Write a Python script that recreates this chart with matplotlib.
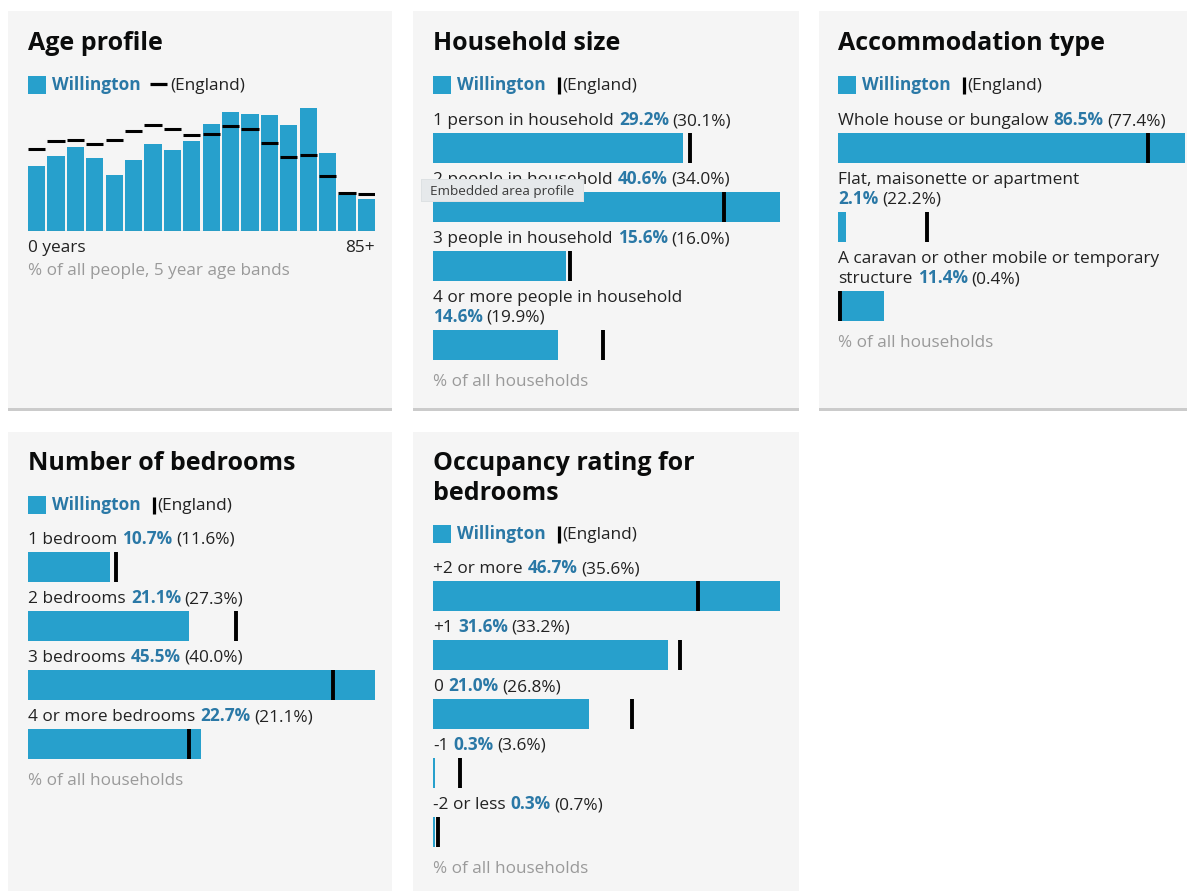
import matplotlib
matplotlib.use("Agg")
import matplotlib.pyplot as plt
from matplotlib.patches import Rectangle
from matplotlib.transforms import Affine2D
from matplotlib.lines import Line2D

# ---------------- data ----------------
age_bands = ["0-4", "5-9", "10-14", "15-19", "20-24", "25-29", "30-34", "35-39", "40-44",
             "45-49", "50-54", "55-59", "60-64", "65-69", "70-74", "75-79", "80-84", "85+"]
age_willington = [4.3, 4.95, 5.5, 4.8, 3.7, 4.7, 5.7, 5.35, 5.9, 7.05, 7.8, 7.7, 7.6, 7.0, 8.1, 5.1, 2.4, 2.1]
age_england = [5.4, 5.9, 6.0, 5.7, 6.0, 6.6, 7.0, 6.7, 6.3, 6.4, 6.9, 6.7, 5.8, 4.9, 5.0, 3.6, 2.5, 2.45]

hh_categories = ["1 person in household", "2 people in household", "3 people in household",
                 "4 or more people in household"]
hh_willington = [29.2, 40.6, 15.6, 14.6]
hh_england = [30.1, 34.0, 16.0, 19.9]

acc_categories = ["Whole house or bungalow", "Flat, maisonette or apartment",
                  "A caravan or other mobile or temporary structure"]
acc_willington = [86.5, 2.1, 11.4]
acc_england = [77.4, 22.2, 0.4]

bed_categories = ["1 bedroom", "2 bedrooms", "3 bedrooms", "4 or more bedrooms"]
bed_willington = [10.7, 21.1, 45.5, 22.7]
bed_england = [11.6, 27.3, 40.0, 21.1]

occ_categories = ["+2 or more", "+1", "0", "-1", "-2 or less"]
occ_willington = [46.7, 31.6, 21.0, 0.3, 0.3]
occ_england = [35.6, 33.2, 26.8, 3.6, 0.7]

area_name = "Willington"
compare_name = "(England)"

# ---------------- style ----------------
W_PX, H_PX = 1187, 891
DPI = 100
BLUE = "#27a0cc"
TXT_BLUE = "#2a78a6"
DARK = "#222222"
GREY = "#9a9a9a"
PANEL_BG = "#f5f5f5"
BORDER = "#cbcbcb"
FONT = "Open Sans"
TITLE_FS = 18.0
LABEL_FS = 12.4
FOOT_FS = 12.3
BAR_W = 347
BAR_H = 30
GAP_WORD = 5.2   # gap before the bold value
GAP_VAL = 3.6    # gap between value and comparison

plt.rcParams["font.family"] = [FONT, "DejaVu Sans"]

fig = plt.figure(figsize=(W_PX / DPI, H_PX / DPI), dpi=DPI)
fig.patch.set_facecolor("white")
renderer = fig.canvas.get_renderer()
pxT = Affine2D().scale(1, -1).translate(0, H_PX)


def txt(x, y, s, **kw):
    kw.setdefault("va", "baseline")
    kw.setdefault("ha", "left")
    kw.setdefault("fontsize", LABEL_FS)
    kw.setdefault("color", DARK)
    return fig.text(x, y, s, transform=pxT, **kw)


def width_of(t):
    return t.get_window_extent(renderer).width


def rect(x0, y0, x1, y1, color, z=-5):
    fig.add_artist(Rectangle((x0, y1), x1 - x0, y0 - y1, transform=pxT,
                             facecolor=color, edgecolor="none", zorder=z))


def panel(x0, y0, x1, y1, border=True):
    rect(x0, y0, x1, y1, PANEL_BG)
    if border:
        rect(x0, y1, x1, y1 + 3, BORDER)


def title(x, y, lines):
    for i, ln in enumerate(lines):
        txt(x, y + i * 30, ln, fontsize=TITLE_FS, fontweight="bold", color="#0b0c0c")
    return y + (len(lines) - 1) * 30


def legend(x, yc, kind):
    rect(x, yc - 9, x + 18, yc + 9, BLUE, z=2)
    t = txt(x + 24, yc + 5, area_name, fontweight="bold", color=TXT_BLUE)
    xe = x + 24 + width_of(t)
    if kind == "dash":
        fig.add_artist(Line2D([xe + 9, xe + 26], [yc - 1, yc - 1], transform=pxT,
                              color="black", lw=2.3, solid_capstyle="butt"))
        txt(xe + 30, yc + 5, compare_name)
    else:
        fig.add_artist(Line2D([xe + 13, xe + 13], [yc - 8, yc + 9], transform=pxT,
                              color="black", lw=2.3, solid_capstyle="butt"))
        txt(xe + 17, yc + 5, compare_name)


BOLD = {"fontweight": "bold", "color": TXT_BLUE}
REG = {}


def draw_line(x0, y, units, draw=True):
    """units: list of word units; each unit is a list of (text, style) segments."""
    segs = []
    for unit in units:
        for s, st in unit:
            if segs and segs[-1][1] is st and len(unit) == 1:
                segs[-1][0] += " " + s
            else:
                segs.append([s, st])
    x = x0
    arts = []
    for i, (s, st) in enumerate(segs):
        if i > 0:
            x += GAP_VAL if segs[i - 1][1] is BOLD else GAP_WORD
        t = txt(x, y, s, **st)
        arts.append(t)
        x += width_of(t)
    width = x - x0
    if not draw:
        for a in arts:
            a.remove()
    return width


def wrapped_label(x0, y, name, val, eng, maxw=340, line_h=20):
    units = [[(w, REG)] for w in name.split(" ")]
    # value and comparison stay together on one line
    units.append([(f"{val:.1f}%", BOLD), (f"({eng:.1f}%)", REG)])
    lines, cur = [], []
    for u in units:
        cand = cur + [u]
        if cur and draw_line(x0, -200, cand, draw=False) > maxw:
            lines.append(cur)
            cur = [u]
        else:
            cur = cand
    lines.append(cur)
    for i, ln in enumerate(lines):
        draw_line(x0, y + i * line_h, ln)
    return y + (len(lines) - 1) * line_h


def bar_panel(x0, y_first, cats, will, eng):
    y = y_first
    centers = []
    for c, w, e in zip(cats, will, eng):
        ylast = wrapped_label(x0, y, c, w, e)
        top = ylast + 8
        centers.append(top + BAR_H / 2)
        y = top + BAR_H + 21
    ytop = centers[0] - BAR_H / 2
    ybot = centers[-1] + BAR_H / 2
    ax = fig.add_axes([x0 / W_PX, 1 - ybot / H_PX, BAR_W / W_PX, (ybot - ytop) / H_PX])
    ax.barh(centers, will, height=BAR_H, color=BLUE, edgecolor="none")
    ax.vlines(eng, [c - BAR_H / 2 for c in centers], [c + BAR_H / 2 for c in centers],
              color="black", lw=2.8, clip_on=False, zorder=3)
    ax.set_xlim(0, max(max(will), max(eng)))
    ax.set_ylim(ybot, ytop)
    ax.axis("off")
    ax.patch.set_visible(False)
    txt(x0, ybot + 26, "% of all households", fontsize=FOOT_FS, color=GREY)


# ---------------- panels ----------------
panel(8, 11, 392, 408)
panel(413, 11, 799, 408)
panel(819, 11, 1187, 408)
panel(8, 432, 392, 891, border=False)
panel(413, 432, 799, 891, border=False)

# Age profile
title(28, 50, ["Age profile"])
legend(28, 85, "dash")
ax = fig.add_axes([28 / W_PX, 1 - 231 / H_PX, BAR_W / W_PX, 8.6 * 15.2 / H_PX])
xs = list(range(len(age_bands)))
ax.bar(xs, age_willington, width=0.89, color=BLUE, edgecolor="none")
ax.hlines(age_england, [x - 0.445 for x in xs], [x + 0.445 for x in xs],
          color="black", lw=2.2, zorder=3)
ax.axhline(0, color="#5a6a70", lw=0.8)
ax.set_xlim(-0.445, len(age_bands) - 1 + 0.445)
ax.set_ylim(0, 8.6)
ax.axis("off")
ax.patch.set_visible(False)
txt(28, 252, "0 years")
txt(375, 252, "85+", ha="right")
txt(28, 275, "% of all people, 5 year age bands", fontsize=FOOT_FS, color=GREY)

# Household size
title(433, 50, ["Household size"])
legend(433, 85, "bar")
bar_panel(433, 125, hh_categories, hh_willington, hh_england)

# Accommodation type
title(838, 50, ["Accommodation type"])
legend(838, 85, "bar")
bar_panel(838, 125, acc_categories, acc_willington, acc_england)

# Number of bedrooms
title(28, 470, ["Number of bedrooms"])
legend(28, 505, "bar")
bar_panel(28, 544, bed_categories, bed_willington, bed_england)

# Occupancy rating
title(433, 470, ["Occupancy rating for", "bedrooms"])
legend(433, 534, "bar")
bar_panel(433, 573, occ_categories, occ_willington, occ_england)

# Tooltip overlay (present in the reference screenshot)
rect(421, 179, 584, 202, "#dde1e3", z=10)
rect(422, 180, 583, 201, "#e6e9eb", z=10.5)
txt(430, 195, "Embedded area profile", fontsize=9.7, color="#3a3a3a", zorder=11)

fig.savefig("out.png", dpi=DPI, facecolor="white")
